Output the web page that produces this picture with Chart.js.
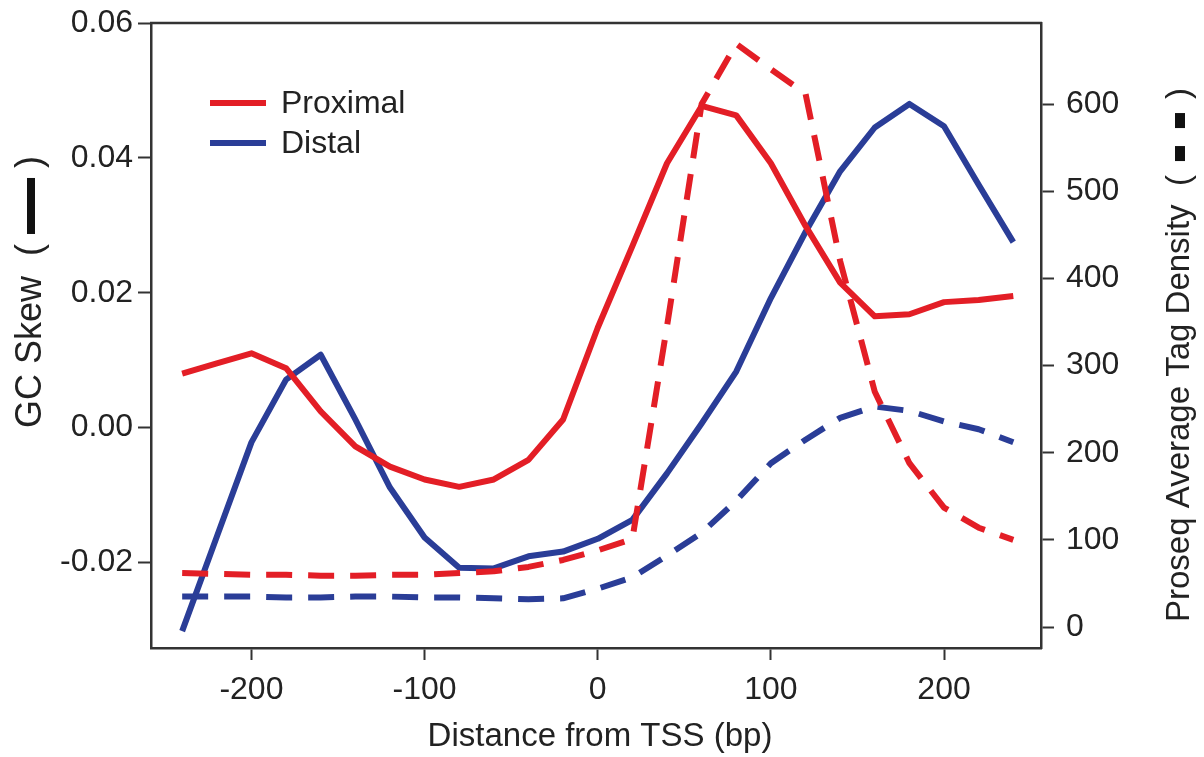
<!DOCTYPE html>
<html>
<head>
<meta charset="utf-8">
<script src="https://cdn.jsdelivr.net/npm/chart.js@4.4.1/dist/chart.umd.min.js"></script>
<style>
  html, body { margin: 0; padding: 0; background: #fff; }
  #chart { display: block; }
</style>
</head>
<body>
<canvas id="chart" width="1204" height="757"></canvas>
<script>
// distance from TSS, bp
const positions = [-240, -220, -200, -180, -160, -140, -120, -100, -80, -60, -40, -20, 0,
  20, 40, 60, 80, 100, 120, 140, 160, 180, 200, 220, 240];

// GC skew (left axis, solid)
const proximalSkew = [0.0080, 0.0095, 0.0110, 0.0088, 0.0024, -0.0028, -0.0058, -0.0077, -0.0088,
  -0.0077, -0.0048, 0.0012, 0.0148, 0.0269, 0.0392, 0.0477, 0.0463, 0.0392, 0.0299, 0.0215,
  0.0165, 0.0168, 0.0186, 0.0189, 0.0195];
const distalSkew = [-0.0302, -0.0162, -0.0022, 0.0071, 0.0108, 0.0012, -0.0089, -0.0163, -0.0208,
  -0.0209, -0.0191, -0.0184, -0.0165, -0.0137, -0.0068, 0.0006, 0.0083, 0.0192, 0.0290, 0.0380,
  0.0445, 0.0480, 0.0447, 0.0360, 0.0275];

// Proseq average tag density (right axis, dashed)
const proximalTags = [62, 61, 60, 60, 59, 59, 60, 60, 62, 64, 69, 77, 88, 101, 345, 600, 669,
  640, 612, 420, 270, 188, 137, 114, 100];
const distalTags = [35, 35, 35, 34, 34, 35, 35, 34, 34, 33, 32, 33, 44, 57, 82, 108, 145, 188,
  215, 240, 253, 248, 236, 227, 212];

const distanceTicks = [-200, -100, 0, 100, 200];
const skewTicks = [-0.02, 0.00, 0.02, 0.04, 0.06];
const tagTicks = [0, 100, 200, 300, 400, 500, 600];

const RED = "#e31e26";
const BLUE = "#2a3d97";
const AXIS = "#333333";
const FONT = "'Liberation Sans', Arial, Helvetica, sans-serif";

function points(values) {
  return positions.map((p, i) => ({ x: p, y: values[i] }));
}

// titles, legend and the top edge of the frame
const decorations = {
  id: "decorations",
  afterDraw(chart) {
    const ctx = chart.ctx;
    const area = chart.chartArea;
    ctx.save();

    ctx.strokeStyle = AXIS;
    ctx.lineWidth = 2.5;
    ctx.beginPath();
    ctx.moveTo(area.left - 1, area.top);
    ctx.lineTo(area.right + 1, area.top);
    ctx.stroke();

    ctx.fillStyle = "#222";
    ctx.textBaseline = "middle";

    // x title
    ctx.font = "33px " + FONT;
    ctx.textAlign = "center";
    ctx.fillText("Distance from TSS (bp)", 600, 737);

    // left title: GC Skew ( — )
    ctx.save();
    ctx.font = "36px " + FONT;
    ctx.translate(31, 428);
    ctx.rotate(-Math.PI / 2);
    ctx.textAlign = "left";
    let t = "GC Skew  (";
    ctx.fillText(t, 0, 0);
    let w = ctx.measureText(t).width + 10;
    ctx.fillStyle = "#111";
    ctx.fillRect(w, -4, 56, 8);
    ctx.fillStyle = "#222";
    ctx.fillText(")", w + 66, 0);
    ctx.restore();

    // right title: Proseq Average Tag Density ( - - )
    ctx.save();
    ctx.font = "33px " + FONT;
    ctx.translate(1180, 622);
    ctx.rotate(-Math.PI / 2);
    ctx.textAlign = "left";
    t = "Proseq Average Tag Density  (";
    ctx.fillText(t, 0, 0);
    w = ctx.measureText(t).width + 14;
    ctx.fillStyle = "#111";
    ctx.fillRect(w, -5, 15, 10);
    ctx.fillRect(w + 33, -5, 15, 10);
    ctx.fillStyle = "#222";
    ctx.fillText(")", w + 62, 0);
    ctx.restore();

    // legend
    const items = chart.data.datasets.filter(d => d.inLegend);
    items.forEach((d, i) => {
      const y = 103 + i * 40;
      ctx.strokeStyle = d.borderColor;
      ctx.lineWidth = 6;
      ctx.beginPath();
      ctx.moveTo(210, y);
      ctx.lineTo(266, y);
      ctx.stroke();
      ctx.fillStyle = "#222";
      ctx.textAlign = "left";
      ctx.font = "32px " + FONT;
      ctx.fillText(d.label, 281, y + 1);
    });

    ctx.restore();
  }
};

const tickFont = { family: FONT, size: 32 };
// short line height on the side axes so their top label doesn't push the frame down
const sideTickFont = { family: FONT, size: 32, lineHeight: 0.6 };

new Chart(document.getElementById("chart"), {
  type: "line",
  data: {
    datasets: [
      {
        label: "Proximal tags", data: points(proximalTags), yAxisID: "y1",
        borderColor: RED, borderWidth: 6, borderDash: [26, 16]
      },
      {
        label: "Distal tags", data: points(distalTags), yAxisID: "y1",
        borderColor: BLUE, borderWidth: 6, borderDash: [26, 16]
      },
      {
        label: "Proximal", data: points(proximalSkew), yAxisID: "y",
        borderColor: RED, borderWidth: 6, inLegend: true
      },
      {
        label: "Distal", data: points(distalSkew), yAxisID: "y",
        borderColor: BLUE, borderWidth: 6, inLegend: true
      }
    ]
  },
  options: {
    responsive: false,
    devicePixelRatio: 1,
    animation: false,
    layout: { autoPadding: false, padding: { top: 23, left: 0, right: 0, bottom: 0 } },
    elements: {
      point: { radius: 0 },
      line: { tension: 0, borderJoinStyle: "round", fill: false }
    },
    plugins: {
      legend: { display: false },
      tooltip: { enabled: false }
    },
    scales: {
      x: {
        type: "linear",
        min: -258,
        max: 256,
        afterBuildTicks: s => { s.ticks = distanceTicks.map(v => ({ value: v })); },
        afterFit: s => { s.height = 109; },
        ticks: { font: tickFont, color: "#222", padding: 11, maxRotation: 0 },
        grid: { drawOnChartArea: false, tickLength: 12, tickColor: AXIS, tickWidth: 2 },
        border: { color: AXIS, width: 2.5 }
      },
      y: {
        position: "left",
        min: -0.0327,
        max: 0.06,
        afterBuildTicks: s => { s.ticks = skewTicks.map(v => ({ value: v })); },
        afterFit: s => { s.width = 151; },
        ticks: { font: sideTickFont, color: "#222", padding: 5, callback: v => v.toFixed(2) },
        grid: { drawOnChartArea: false, tickLength: 13, tickColor: AXIS, tickWidth: 2 },
        border: { color: AXIS, width: 2.5 }
      },
      y1: {
        position: "right",
        min: -24,
        max: 693,
        afterBuildTicks: s => { s.ticks = tagTicks.map(v => ({ value: v })); },
        afterFit: s => { s.width = 163; },
        ticks: { font: sideTickFont, color: "#222", padding: 12 },
        grid: { drawOnChartArea: false, tickLength: 13, tickColor: AXIS, tickWidth: 2 },
        border: { color: AXIS, width: 2.5 }
      }
    }
  },
  plugins: [decorations]
});
</script>
</body>
</html>
